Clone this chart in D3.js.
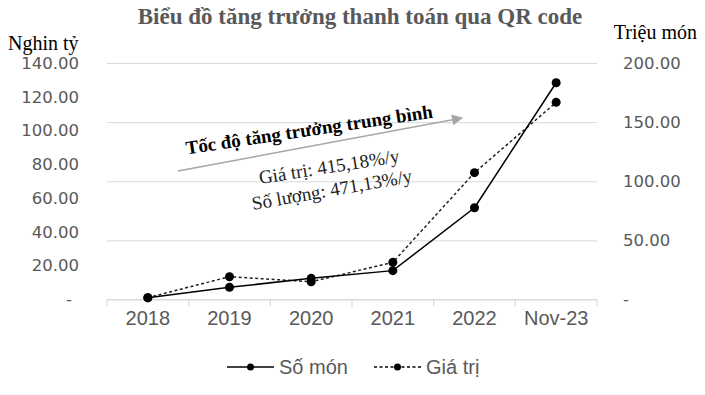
<!DOCTYPE html>
<html>
<head>
<meta charset="utf-8">
<script src="https://cdn.jsdelivr.net/npm/d3@7"></script>
<style>
  body { margin: 0; background: #fff; }
  svg { display: block; }
  .grid line { stroke: #d9d9d9; }
  .ylab text { font-family: "DejaVu Sans", sans-serif; font-size: 16.5px; fill: #595959; }
  .xlab text { font-family: "Liberation Sans", Arial, sans-serif; font-size: 20px; fill: #595959; }
</style>
</head>
<body>
<svg id="chart" width="705" height="395"></svg>
<script>
// du lieu doc tu hinh
var categories = ["2018", "2019", "2020", "2021", "2022", "Nov-23"];
var soMon = [1.5, 10.3, 17.9, 24.4, 77.6, 183.3];   // Triệu món (truc phai)
var giaTri = [1.1, 13.5, 10.5, 22.0, 75.1, 116.7];  // Nghìn tỷ (truc trai)
var leftTicks = [0, 20, 40, 60, 80, 100, 120, 140];
var rightTicks = [0, 50, 100, 150, 200];

var svg = d3.select("#chart"),
    margin = {top: 63, right: 108, bottom: 95.5, left: 107},
    width = +svg.attr("width") - margin.left - margin.right,
    height = +svg.attr("height") - margin.top - margin.bottom,
    g = svg.append("g").attr("transform", "translate(" + margin.left + "," + margin.top + ")");

var x = d3.scaleBand().domain(categories).range([0, width]);
var yL = d3.scaleLinear().domain([0, 140]).range([height, 0]);
var yR = d3.scaleLinear().domain([0, 200]).range([height, 0]);
var fmt = function(d) { return d === 0 ? "-" : d3.format(".2f")(d); };

// luoi ngang theo truc phai
g.append("g")
    .attr("class", "grid")
    .call(d3.axisRight(yR).tickValues(rightTicks).tickSize(width).tickFormat(""))
    .call(function(s) { s.select(".domain").remove(); });

// truc trai
var gl = g.append("g")
    .attr("class", "ylab")
    .attr("transform", "translate(-25,0)")
    .call(d3.axisLeft(yL).tickValues(leftTicks).tickSize(0).tickFormat(fmt));
gl.select(".domain").remove();
gl.selectAll(".tick text").filter(function(d) { return d === 0; }).attr("x", -10);

// truc phai
var gr = g.append("g")
    .attr("class", "ylab")
    .attr("transform", "translate(" + (width + 23) + ",0)")
    .call(d3.axisRight(yR).tickValues(rightTicks).tickSize(0).tickFormat(fmt));
gr.select(".domain").remove();

// truc x
g.append("line")
    .attr("x1", 0).attr("x2", width)
    .attr("y1", height).attr("y2", height)
    .attr("stroke", "#d9d9d9").attr("stroke-width", 1.2);
var edges = categories.map(function(c) { return x(c); }).concat([width]);
g.selectAll(".xtick").data(edges).enter().append("line")
    .attr("x1", function(d) { return d; }).attr("x2", function(d) { return d; })
    .attr("y1", height).attr("y2", height + 7)
    .attr("stroke", "#d9d9d9").attr("stroke-width", 1.2);
var gx = g.append("g")
    .attr("class", "xlab")
    .attr("transform", "translate(0," + height + ")")
    .call(d3.axisBottom(x).tickSize(0).tickPadding(11));
gx.select(".domain").remove();

var cx = function(i) { return x(categories[i]) + x.bandwidth() / 2; };

var lineR = d3.line().x(function(d, i) { return cx(i); }).y(function(d) { return yR(d); });
var lineL = d3.line().x(function(d, i) { return cx(i); }).y(function(d) { return yL(d); });

g.append("path").datum(giaTri)
    .attr("d", lineL).attr("fill", "none")
    .attr("stroke", "#222").attr("stroke-width", 1.5).attr("stroke-dasharray", "3,2.5");
g.append("path").datum(soMon)
    .attr("d", lineR).attr("fill", "none")
    .attr("stroke", "#000").attr("stroke-width", 1.5);

g.selectAll(".dotL").data(giaTri).enter().append("circle")
    .attr("cx", function(d, i) { return cx(i); }).attr("cy", function(d) { return yL(d); })
    .attr("r", 4.5).attr("fill", "#000");
g.selectAll(".dotR").data(soMon).enter().append("circle")
    .attr("cx", function(d, i) { return cx(i); }).attr("cy", function(d) { return yR(d); })
    .attr("r", 4.5).attr("fill", "#000");

var serif = "'Liberation Serif', 'Times New Roman', serif";

// tieu de va ten truc
svg.append("text")
    .attr("x", 360).attr("y", 24).attr("text-anchor", "middle")
    .style("font-family", serif)
    .style("font-size", "23px").style("font-weight", "bold").style("fill", "#595959")
    .text("Biểu đồ tăng trưởng thanh toán qua QR code");
svg.append("text")
    .attr("x", 8).attr("y", 50)
    .style("font-family", serif).style("font-size", "20px")
    .text("Nghin tỷ");
svg.append("text")
    .attr("x", 697).attr("y", 39).attr("text-anchor", "end")
    .style("font-family", serif).style("font-size", "20px")
    .text("Triệu món");

// mui ten chu thich
var defs = svg.append("defs");
defs.append("marker")
    .attr("id", "arrow").attr("viewBox", "0 0 10 10")
    .attr("refX", 9).attr("refY", 5)
    .attr("markerWidth", 13).attr("markerHeight", 11)
    .attr("markerUnits", "userSpaceOnUse").attr("orient", "auto")
  .append("path").attr("d", "M0,0L10,5L0,10z").attr("fill", "#a6a6a6");
svg.append("line")
    .attr("x1", 178).attr("y1", 171).attr("x2", 462).attr("y2", 118)
    .attr("stroke", "#a6a6a6").attr("stroke-width", 1.5)
    .attr("marker-end", "url(#arrow)");

svg.append("text")
    .attr("transform", "translate(310,136) rotate(-8.5)")
    .attr("text-anchor", "middle")
    .style("font-family", serif).style("font-size", "19px").style("font-weight", "bold")
    .text("Tốc độ tăng trưởng trung bình");
svg.append("text")
    .attr("transform", "translate(330,173) rotate(-9)")
    .attr("text-anchor", "middle")
    .style("font-family", serif).style("font-size", "19px").style("fill", "#222")
    .text("Giá trị: 415,18%/y");
svg.append("text")
    .attr("transform", "translate(333,196) rotate(-10)")
    .attr("text-anchor", "middle")
    .style("font-family", serif).style("font-size", "19px").style("fill", "#222")
    .text("Số lượng: 471,13%/y");

// chu giai
var legend = [
  {name: "Số món", dash: null, x: 227},
  {name: "Giá trị", dash: "3,2.5", x: 374}
];
var lg = svg.append("g").attr("transform", "translate(0,367)");
legend.forEach(function(l) {
  lg.append("line")
      .attr("x1", l.x).attr("x2", l.x + 47).attr("y1", 0).attr("y2", 0)
      .attr("stroke", "#000").attr("stroke-width", 1.5)
      .attr("stroke-dasharray", l.dash);
  lg.append("circle").attr("cx", l.x + 23.5).attr("cy", 0).attr("r", 3.5).attr("fill", "#000");
  lg.append("text")
      .attr("x", l.x + 52).attr("y", 7)
      .style("font-family", "'Liberation Sans', Arial, sans-serif")
      .style("font-size", "20px").style("fill", "#595959")
      .text(l.name);
});
</script>
</body>
</html>
